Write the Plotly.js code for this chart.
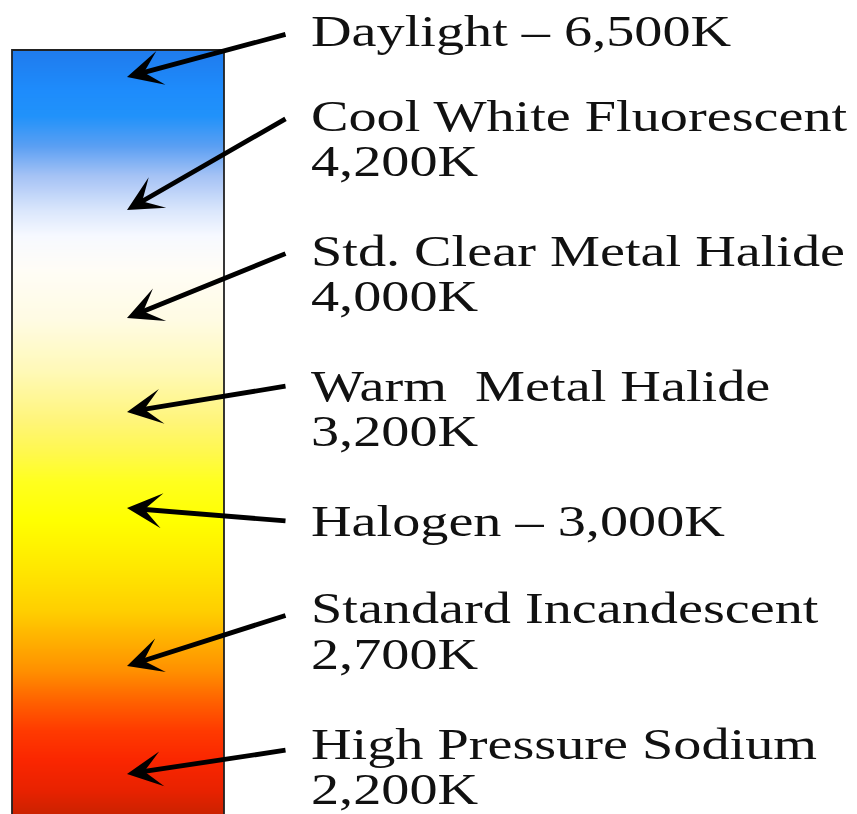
<!DOCTYPE html>
<html>
<head>
<meta charset="utf-8">
<script src="https://cdn.plot.ly/plotly-3.0.1.min.js"></script>
<style>
  html, body { margin: 0; padding: 0; background: #fff; }
  #chart { width: 857px; height: 814px; }
  .annotation-text { transform: scaleX(1.25); transform-box: fill-box; transform-origin: left center; }
</style>
</head>
<body>
<div id="chart"></div>
<script>
// ---- data ----
const labelLine1 = ['Daylight \u2013 6,500K', 'Cool White Fluorescent', 'Std. Clear Metal Halide',
                    'Warm\u00a0 Metal Halide', 'Halogen \u2013 3,000K', 'Standard Incandescent', 'High Pressure Sodium'];
const labelLine2 = ['', '4,200K', '4,000K', '3,200K', '', '2,700K', '2,200K'];
// level on the colour bar each arrow points at (vertical position, top = 0)
const pointerLevel = [77, 210, 318, 412, 508, 666, 774];
// level of the arrow tails next to each label
const labelLevel = [34, 118, 253, 386, 521, 615, 750];
// vertical centres of the two text lines of each label
const line1Level = [30, 115, 250, 385, 520, 607, 743];
const line2Level = [null, 160, 295, 430, null, 653, 788];
// colour-temperature gradient stops (vertical position, colour)
const gradientPos = [50, 51, 90, 115, 145, 175, 210, 235, 270, 320, 370, 420, 450, 480, 520, 570, 610, 640, 670, 700, 730, 760, 790, 813, 814];
const gradientColor = ['#1f7cee', '#1f7cee', '#1e8cfc', '#2092fa', '#5a9ff3', '#a5c3f5', '#dbe7fc', '#f7f9ff',
                       '#fffdf6', '#fffbe3', '#fff9b8', '#fff57a', '#fff850', '#ffff20', '#ffff00', '#ffe600',
                       '#ffcf00', '#ffb000', '#ff9000', '#ff6200', '#ff3a00', '#fa2600', '#e82200', '#cc2200', '#cc2200'];

// ---- layout constants ----
const W = 857, H = 814;
const barLeft = 12, barRight = 224, barTop = 50;
const headX = 127, tailX = 287, textX = 309;
const font = { family: '"Liberation Serif", "Times New Roman", serif', size: 45, color: '#111' };

const pMin = gradientPos[0], pMax = gradientPos[gradientPos.length - 1];
const colorscale = gradientPos.map((p, i) => [(p - pMin) / (pMax - pMin), gradientColor[i]]);

const bar = {
  type: 'heatmap',
  x: [barLeft, (barLeft + barRight) / 2, barRight],
  y: gradientPos,
  z: gradientPos.map(p => [p, p]),
  zmin: pMin, zmax: pMax,
  colorscale: colorscale,
  zsmooth: 'best',
  showscale: false,
  hoverinfo: 'skip'
};

const annotations = [];
pointerLevel.forEach((lvl, i) => {
  annotations.push({
    x: headX, y: lvl, xref: 'x', yref: 'y',
    ax: tailX, ay: labelLevel[i], axref: 'x', ayref: 'y',
    text: '', showarrow: true, arrowhead: 3, arrowsize: 1.22, arrowwidth: 4.8, arrowcolor: '#000'
  });
  annotations.push({
    x: textX, y: line1Level[i], xref: 'x', yref: 'y',
    xanchor: 'left', yanchor: 'middle', showarrow: false,
    text: labelLine1[i], font: font
  });
  if (labelLine2[i]) {
    annotations.push({
      x: textX, y: line2Level[i], xref: 'x', yref: 'y',
      xanchor: 'left', yanchor: 'middle', showarrow: false,
      text: labelLine2[i], font: font
    });
  }
});

const layout = {
  width: W, height: H,
  margin: { l: 0, r: 0, t: 0, b: 0 },
  paper_bgcolor: '#fff', plot_bgcolor: '#fff',
  showlegend: false,
  xaxis: { range: [0, W], visible: false, fixedrange: true },
  yaxis: { range: [H, 0], visible: false, fixedrange: true },
  shapes: [{
    type: 'rect', xref: 'x', yref: 'y',
    x0: barLeft, x1: barRight, y0: barTop, y1: H + 10,
    line: { color: '#222', width: 1.8 }, fillcolor: 'rgba(0,0,0,0)', layer: 'above'
  }],
  annotations: annotations
};

Plotly.newPlot('chart', [bar], layout, { staticPlot: true, displayModeBar: false });
</script>
</body>
</html>
